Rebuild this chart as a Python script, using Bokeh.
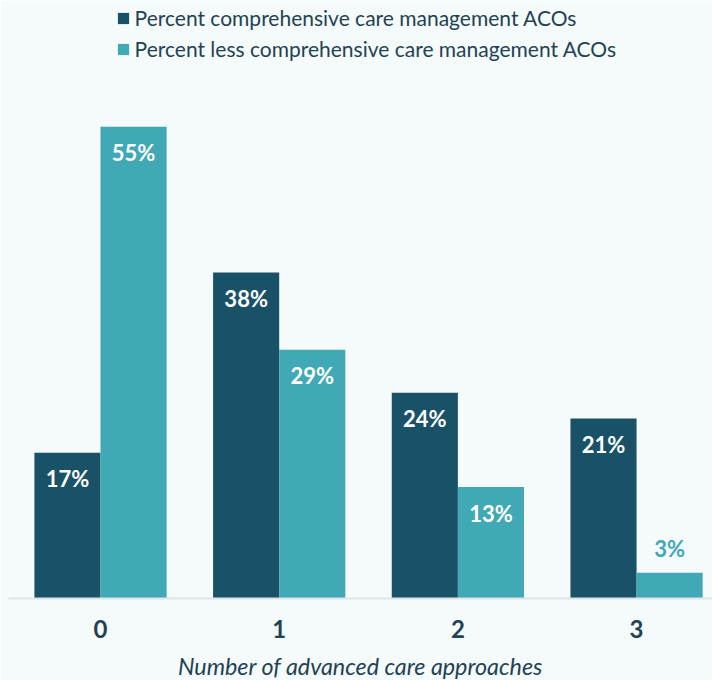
from bokeh.plotting import figure
from bokeh.models import ColumnDataSource, FixedTicker, Legend, LegendItem
from bokeh.core.properties import value
from bokeh.embed import file_html
from bokeh.resources import INLINE

categories = ["0", "1", "2", "3"]
comprehensive = [17, 38, 24, 21]
less_comprehensive = [55, 29, 13, 3]
series_names = ["Percent comprehensive care management ACOs",
                "Percent less comprehensive care management ACOs"]
x_title = "Number of advanced care approaches"

DARK = "#195267"
LIGHT = "#41a8b5"
TEXT = "#1f4354"
BG = "#f5fafb"

bar_w = 0.37
xs = list(range(len(categories)))

p = figure(frame_width=704, frame_height=598, min_border=0,
           min_border_left=8,
           x_range=(-0.515, 3.425), y_range=(0, 69.73),
           output_backend="svg", toolbar_location=None,
           background_fill_color=BG, border_fill_color=BG)
p.outline_line_color = None
p.xgrid.visible = False
p.ygrid.visible = False
p.yaxis.visible = False

renderers = []
for vals, col, sign in [(comprehensive, DARK, -1), (less_comprehensive, LIGHT, 1)]:
    xpos = [x + sign * bar_w / 2 for x in xs]
    src = ColumnDataSource(dict(x=xpos, top=vals))
    r = p.vbar(x="x", top="top", width=bar_w, bottom=0, source=src,
               fill_color=col, line_color=None)
    renderers.append(r)
    inside = [i for i, v in enumerate(vals) if v >= 10]
    outside = [i for i, v in enumerate(vals) if v < 10]
    if inside:
        s_in = ColumnDataSource(dict(x=[xpos[i] for i in inside],
                                     y=[vals[i] for i in inside],
                                     t=[f"{vals[i]}%" for i in inside]))
        p.text(x="x", y="y", text="t", source=s_in, text_align="center",
               text_baseline="middle", y_offset=26, text_color="white",
               text_font=value("Lato"), text_font_style="bold",
               text_font_size="22px")
    if outside:
        s_out = ColumnDataSource(dict(x=[xpos[i] for i in outside],
                                      y=[vals[i] for i in outside],
                                      t=[f"{vals[i]}%" for i in outside]))
        p.text(x="x", y="y", text="t", source=s_out, text_align="center",
               text_baseline="middle", y_offset=-24, text_color=col,
               text_font=value("Lato"), text_font_style="bold",
               text_font_size="22px")

ax = p.xaxis[0]
ax.ticker = FixedTicker(ticks=xs)
ax.major_label_overrides = {i: c for i, c in enumerate(categories)}
ax.axis_line_color = "#dde5e8"
ax.axis_line_width = 2
ax.major_tick_line_color = None
ax.minor_tick_line_color = None
ax.major_label_text_font = "Lato"
ax.major_label_text_font_style = "bold"
ax.major_label_text_font_size = "24px"
ax.major_label_text_color = TEXT
ax.major_label_standoff = 15
ax.axis_label = x_title
ax.axis_label_text_font = "Lato"
ax.axis_label_text_font_style = "italic"
ax.axis_label_text_font_size = "23.3px"
ax.axis_label_text_color = TEXT
ax.axis_label_standoff = 11

legend = Legend(items=[LegendItem(label=series_names[0], renderers=[renderers[0]]),
                       LegendItem(label=series_names[1], renderers=[renderers[1]])],
                location=(107.6, 537), orientation="vertical",
                glyph_width=14, glyph_height=14, label_height=22,
                spacing=6, padding=0, margin=0, label_standoff=5,
                label_text_font="Lato", label_text_font_size="21px",
                label_text_color=TEXT, border_line_color=None,
                background_fill_alpha=0)
p.add_layout(legend, "center")

open("out.html", "w").write(file_html(p, INLINE))
